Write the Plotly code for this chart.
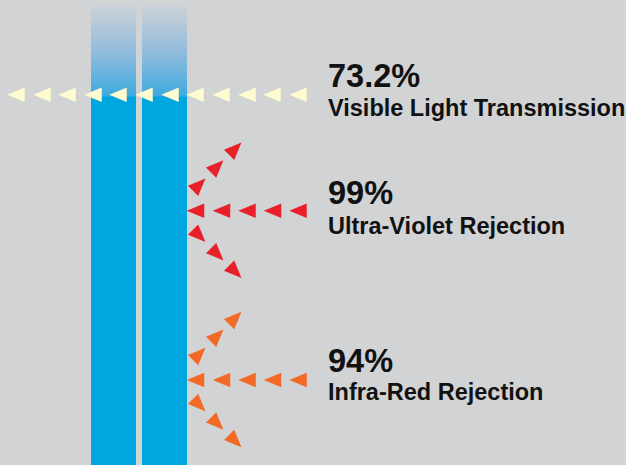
import math
import plotly.graph_objects as go

# ---- data ----
values = ["73.2%", "99%", "94%"]
labels = ["Visible Light Transmission", "Ultra-Violet Rejection", "Infra-Red Rejection"]
value_y = [76, 192.5, 360.5]
label_y = [107.9, 225.5, 391.7]

# incoming visible-light arrows (pass through glass)
visible_x = [16, 42, 67, 93, 118, 144, 170, 195, 221, 247, 272, 298]
visible_y = 94.7
# rejected bands: row centre y
band_rows = [210.7, 380]
band_colors = ["#e8202a", "#f26a26"]
horiz_x = [195.5, 221.5, 247, 272.5, 298]
diag_x = [196.7, 214.7, 232.7]
diag_up = [-23.4, -41.7, -59.4]
diag_down = [22.6, 41.0, 58.6]

# glass panes
panes = [(91, 136), (142, 187)]
glass_top, glass_fade_end, glass_bottom = 5, 96, 465

BG = "#d1d3d4"
BLUE = "#00a6df"
W, H = 626, 465
TW, TH = 17.5, 14.5  # triangle size


def triangle(cx, cy, dx, dy):
    n = math.hypot(dx, dy)
    dx, dy = dx / n, dy / n
    px, py = -dy, dx
    pts = [(dx * 2 * TW / 3, dy * 2 * TW / 3),
           (-dx * TW / 3 + px * TH / 2, -dy * TW / 3 + py * TH / 2),
           (-dx * TW / 3 - px * TH / 2, -dy * TW / 3 - py * TH / 2)]
    xs = [p[0] for p in pts]
    ys = [p[1] for p in pts]
    ox = cx - (max(xs) + min(xs)) / 2
    oy = cy - (max(ys) + min(ys)) / 2
    return [x + ox for x in xs] + [xs[0] + ox, None], [y + oy for y in ys] + [ys[0] + oy, None]


fig = go.Figure()

# glass panes
for x0, x1 in panes:
    fig.add_trace(go.Scatter(
        x=[x0, x1, x1, x0, x0], y=[glass_fade_end, glass_fade_end, glass_bottom, glass_bottom, glass_fade_end],
        fill="toself", fillcolor=BLUE, mode="none", hoverinfo="skip", showlegend=False))
    fig.add_trace(go.Scatter(
        x=[x0, x1, x1, x0, x0], y=[glass_top, glass_top, glass_fade_end + 0.5, glass_fade_end + 0.5, glass_top],
        fill="toself", mode="none", hoverinfo="skip", showlegend=False,
        fillgradient=dict(type="vertical", start=glass_fade_end, stop=glass_top,
                          colorscale=[[0, "#3eaadf"], [0.5, "#94bddc"], [1, "#cdd2d7"]])))

# visible light arrows
xs, ys = [], []
for x in visible_x:
    a, b = triangle(x, visible_y, -1, 0)
    xs += a
    ys += b
fig.add_trace(go.Scatter(x=xs, y=ys, fill="toself", fillcolor="#fffbd0", mode="none",
                         hoverinfo="skip", showlegend=False))

# rejected arrows
for row_y, col in zip(band_rows, band_colors):
    xs, ys = [], []
    for x in horiz_x:
        a, b = triangle(x, row_y, -1, 0)
        xs += a
        ys += b
    for x, off in zip(diag_x, diag_up):
        a, b = triangle(x, row_y + off, 1, -1)
        xs += a
        ys += b
    for x, off in zip(diag_x, diag_down):
        a, b = triangle(x, row_y + off, 1, 1)
        xs += a
        ys += b
    fig.add_trace(go.Scatter(x=xs, y=ys, fill="toself", fillcolor=col, mode="none",
                             hoverinfo="skip", showlegend=False))

FONT = "Liberation Sans, Arial, Helvetica, sans-serif"
for v, l, vy, ly in zip(values, labels, value_y, label_y):
    fig.add_annotation(x=326, y=vy, text=f"<b>{v}</b>", showarrow=False, xanchor="left",
                       yanchor="middle", font=dict(family=FONT, size=32.5, color="#111111"))
    fig.add_annotation(x=326, y=ly, text=f"<b>{l}</b>", showarrow=False, xanchor="left",
                       yanchor="middle", font=dict(family=FONT, size=23.5, color="#111111"))

fig.update_layout(
    width=W, height=H, margin=dict(l=0, r=0, t=0, b=0),
    paper_bgcolor=BG, plot_bgcolor=BG,
    xaxis=dict(range=[0, W], visible=False, fixedrange=True),
    yaxis=dict(range=[H, 0], visible=False, fixedrange=True),
)

fig.write_html("out.html", config={"displayModeBar": False},
               post_script="document.body.style.margin='0';document.body.style.overflow='hidden';")
